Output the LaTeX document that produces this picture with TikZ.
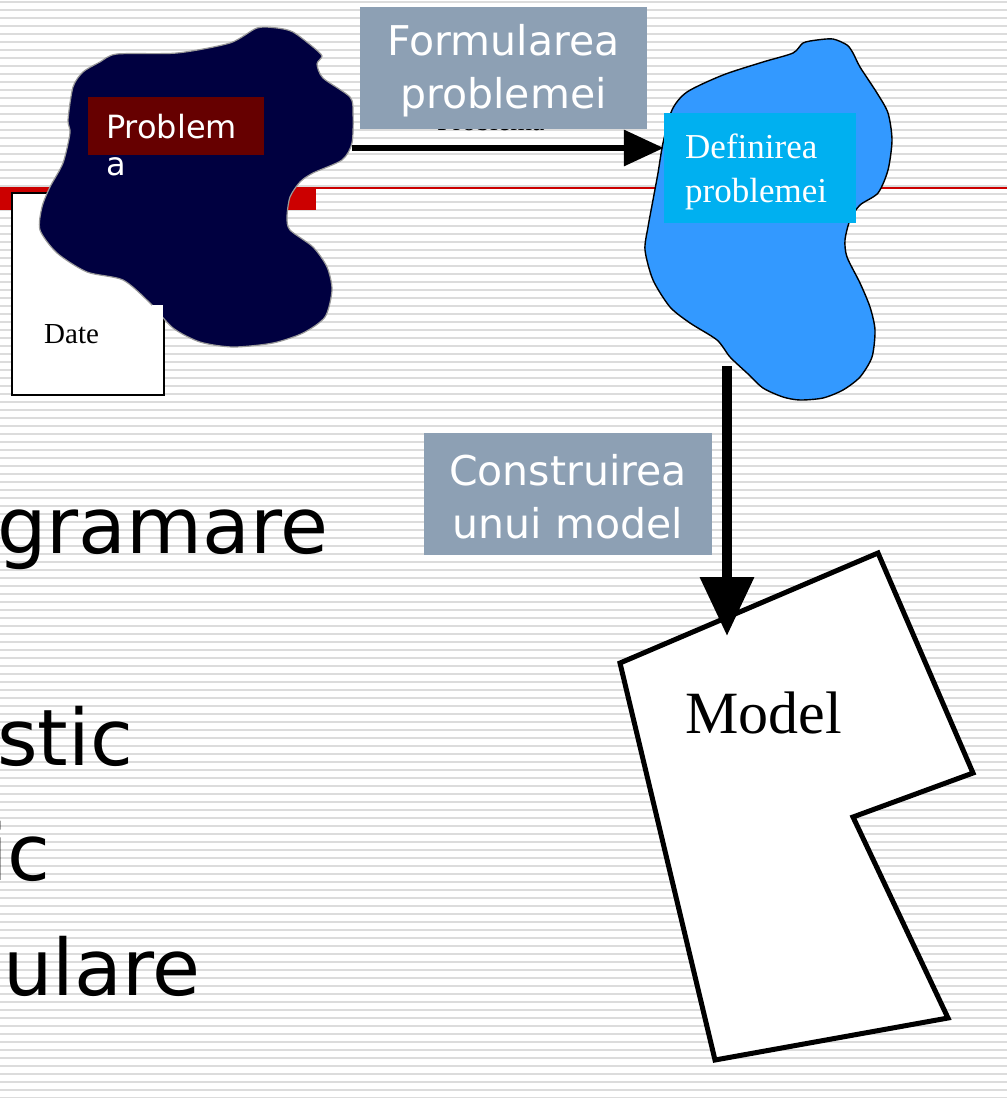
\documentclass[tikz,border=0pt]{standalone}
\usepackage{fontspec}
\setmainfont{Liberation Serif}
\newfontfamily\dejavu{DejaVu Sans}
\usetikzlibrary{arrows.meta}

\definecolor{rulegray}{HTML}{DCDCDC}
\definecolor{slidered}{HTML}{CC0000}
\definecolor{navyblob}{HTML}{000040}
\definecolor{skyblob}{HTML}{3399FF}
\definecolor{darkred}{HTML}{660000}
\definecolor{slategray}{HTML}{8DA0B4}
\definecolor{cyanbox}{HTML}{00B0F0}

\tikzset{
  rule/.style={rulegray, line width=2pt},
  labelbox/.style={fill=slategray, draw=none, inner sep=0pt},
  boxtext/.style={font=\dejavu\fontsize{41}{53}\selectfont, text=white, inner sep=0pt, anchor=base},
  bigtext/.style={font=\dejavu\fontsize{78}{90}\selectfont, text=black, inner sep=0pt, anchor=base west},
  flowarrow/.style={draw=black, line cap=butt},
}

\begin{document}
\begin{tikzpicture}[x=1pt, y=-1pt]
\useasboundingbox (0,0) rectangle (1007,1098);
\clip (0,0) rectangle (1007,1098);
\fill[white] (0,0) rectangle (1007,1098);

% ruled background
\foreach \k in {0,...,137}
  \draw[rule] (0,{1.8+8*\k}) -- (1007,{1.8+8*\k});

% title rule
\draw[slidered, line width=2pt] (0,188) -- (1007,188);
\fill[slidered] (0,187) rectangle (316,210);

% data sheet
\node[draw=black, line width=2pt, fill=white, minimum width=152pt, minimum height=202pt, inner sep=0pt]
  (datebox) at (88,294) {};
\node[anchor=base west, inner sep=0pt, font=\fontsize{29}{34}\selectfont] (datetext) at (44,343) {Date};

% problem blob
\fill[navyblob, draw=gray!80, line width=1.2pt] plot[smooth cycle, tension=0.45] coordinates {
  (230,43) (257,28) (277,28) (293,32) (313,47) (322,56) (317,64) (323,78) (350,97)
  (353,113) (352,143) (342,160) (313,173) (300,182) (290,197) (287,217) (290,230)
  (313,247) (327,267) (332,290) (325,317) (303,333) (273,343) (233,347) (200,342)
  (173,328) (150,303) (123,280) (87,272) (57,253) (40,230) (42,207) (50,187)
  (63,163) (70,133) (68,120) (73,87) (83,72) (100,62) (117,54) (177,53)};
\fill[white] (152,305) rectangle (163,322);

\node[fill=darkred, minimum width=176pt, minimum height=58pt, inner sep=0pt] (probbox) at (176,126) {};
\node[anchor=base west, inner sep=0pt, text=white, font=\dejavu\fontsize{32}{37}\selectfont] (probtext) at (106,138) {Problem};
\node[anchor=base west, inner sep=0pt, text=white, font=\dejavu\fontsize{32}{37}\selectfont] (probtextb) at (106,175) {a};

% text partly covered by the label box
\node[anchor=base west, inner sep=0pt, font=\fontsize{28}{32}\selectfont] (hiddentext) at (437,130.5) {Problema};

% formulation label
\node[labelbox, minimum width=287pt, minimum height=122pt] (formbox) at (503.5,67.5) {};
\node[boxtext] (formtexta) at (503.5,55) {Formularea};
\node[boxtext] (formtextb) at (503.5,108) {problemei};

% definition blob
\fill[skyblob, draw=black, line width=1.4pt] plot[smooth cycle, tension=0.45] coordinates {
  (793,53) (803,43) (817,40) (833,39) (847,45) (853,53) (860,67) (877,93) (888,113)
  (892,140) (888,170) (878,193) (860,205) (850,220) (845,240) (847,257) (860,283)
  (870,307) (875,330) (872,357) (860,377) (843,390) (823,398) (800,400) (783,397)
  (763,388) (747,373) (730,357) (717,340) (690,323) (670,307) (653,280) (645,250)
  (648,227) (653,200) (658,173) (663,143) (672,110) (687,92) (723,75) (763,62)};

\node[fill=cyanbox, minimum width=192pt, minimum height=110pt, inner sep=0pt] (defbox) at (760,168) {};
\node[anchor=base west, inner sep=0pt, text=white, font=\fontsize{35}{44}\selectfont] (deftexta) at (685,158) {Definirea};
\node[anchor=base west, inner sep=0pt, text=white, font=\fontsize{35}{44}\selectfont] (deftextb) at (685,202) {problemei};

% formulation arrow
\coordinate (probout) at (352,148);
\draw[flowarrow, line width=6.5pt, -{Triangle[length=40pt, width=35pt]}] (probout) -- (defbox.west |- probout);

% model
\draw[black, line width=5pt, line join=miter, fill=white]
  (620,663) -- (878,553) -- (973,773) -- (853,817) -- (948,1018) -- (715,1060) -- cycle;
\coordinate (modeltop) at (727,636);
\node[anchor=base west, inner sep=0pt, font=\fontsize{60}{66}\selectfont] (modeltext) at (685,733) {Model};

% construction label and arrow
\node[labelbox, minimum width=288pt, minimum height=122pt] (constbox) at (568,494) {};
\node[boxtext] (consttexta) at (568,485) {Construirea};
\node[boxtext] (consttextb) at (568,538) {unui model};

\coordinate (defout) at (727,366);
\draw[flowarrow, line width=10pt, -{Triangle[length=59pt, width=52pt]}] (defout) -- (modeltop);

% slide body text
\node[bigtext] (linea) at (-3,553) {gramare};
\node[bigtext] (lineb) at (-3,765) {stic};
\node[bigtext] (linec) at (-14,880) {ic};
\node[bigtext] (lined) at (3,995) {ulare};
\end{tikzpicture}
\end{document}
